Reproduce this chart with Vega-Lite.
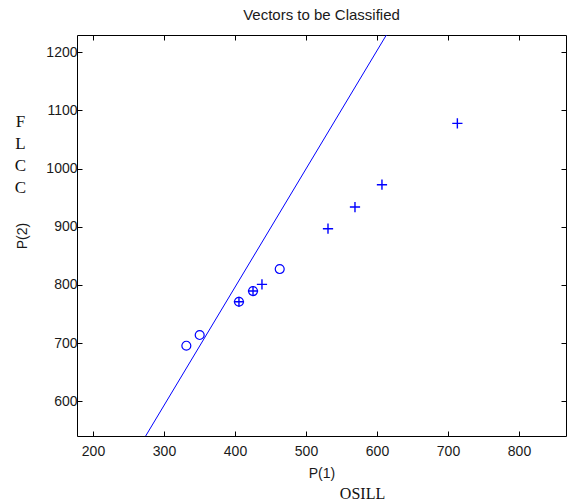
{
  "$schema": "https://vega.github.io/schema/vega-lite/v6.json",
  "width": 489,
  "height": 401,
  "autosize": {"type": "none"},
  "padding": {"left": 77, "top": 35, "right": 2, "bottom": 68},
  "background": "white",
  "title": {"text": "Vectors to be Classified", "font": "Liberation Sans", "fontSize": 15, "fontWeight": "normal", "color": "#1a1a1a", "offset": 12},
  "config": {
    "view": {"stroke": null},
    "axis": {"grid": false, "domainColor": "#000000", "tickColor": "#000000", "labelFont": "Liberation Sans", "labelFontSize": 14, "labelColor": "#1a1a1a", "titleFont": "Liberation Sans", "titleFontSize": 14, "titleFontWeight": "normal", "titleColor": "#1a1a1a", "tickSize": -5, "domainWidth": 1, "tickWidth": 1}
  },
  "datasets": {
    "vectors": [
      {"p1": 331.5, "p2": 695.5, "target": "o"},
      {"p1": 350.3, "p2": 713.9, "target": "o"},
      {"p1": 405.6, "p2": 771.1, "target": "o"},
      {"p1": 425.4, "p2": 789.5, "target": "o"},
      {"p1": 463, "p2": 827.3, "target": "o"},
      {"p1": 405.6, "p2": 771.1, "target": "+"},
      {"p1": 425.4, "p2": 789.5, "target": "+"},
      {"p1": 438, "p2": 801, "target": "+"},
      {"p1": 531, "p2": 896.6, "target": "+"},
      {"p1": 569, "p2": 933.8, "target": "+"},
      {"p1": 607, "p2": 972.2, "target": "+"},
      {"p1": 713.2, "p2": 1077.7, "target": "+"}
    ],
    "boundary": [
      {"p1": 274.2, "p2": 540.4},
      {"p1": 613.2, "p2": 1229.5}
    ]
  },
  "layer": [
    {
      "data": {"name": "vectors"},
      "transform": [{"filter": "datum.target === 'o'"}],
      "mark": {"type": "point", "shape": "circle", "size": 80, "filled": false, "stroke": "#0000ff", "strokeWidth": 1.2, "opacity": 1},
      "encoding": {
        "x": {"field": "p1", "type": "quantitative", "scale": {"domain": [177.5, 866.2], "nice": false, "zero": false},
          "axis": {"orient": "bottom", "values": [200, 300, 400, 500, 600, 700, 800], "format": "d", "title": "P(1)", "labelPadding": 13, "titlePadding": 8}},
        "y": {"field": "p2", "type": "quantitative", "scale": {"domain": [540.4, 1229.5], "nice": false, "zero": false},
          "axis": {"orient": "left", "values": [600, 700, 800, 900, 1000, 1100, 1200], "format": "d", "title": "P(2)", "labelPadding": 5, "titlePadding": 16}}
      }
    },
    {
      "data": {"name": "vectors"},
      "transform": [{"filter": "datum.target === '+'"}],
      "mark": {"type": "point", "shape": "M-1,0L1,0M0,-1L0,1", "size": 105, "filled": false, "stroke": "#0000ff", "strokeWidth": 1.4, "opacity": 1},
      "encoding": {
        "x": {"field": "p1", "type": "quantitative", "axis": {"orient": "top", "values": [200, 300, 400, 500, 600, 700, 800], "labels": false, "title": null}},
        "y": {"field": "p2", "type": "quantitative", "axis": {"orient": "right", "values": [600, 700, 800, 900, 1000, 1100, 1200], "labels": false, "title": null}}
      }
    },
    {
      "data": {"name": "boundary"},
      "mark": {"type": "line", "color": "#0000ff", "strokeWidth": 1, "clip": true},
      "encoding": {
        "x": {"field": "p1", "type": "quantitative", "axis": {"orient": "bottom", "domain": false, "ticks": false, "labels": false, "title": "OSILL", "titleFont": "Liberation Serif", "titleFontSize": 16, "titleColor": "#111111", "titleAlign": "center", "titleBaseline": "top", "titleX": 285, "titleY": 49}},
        "y": {"field": "p2", "type": "quantitative", "axis": {"orient": "left", "domain": false, "ticks": false, "labels": false, "title": ["F", "L", "C", "C"], "titleAngle": 0, "titleFont": "Liberation Serif", "titleFontSize": 17, "titleLineHeight": 22.3, "titleColor": "#111111", "titleAlign": "center", "titleBaseline": "top", "titleX": -57, "titleY": 78}}
      }
    }
  ],
  "resolve": {"axis": {"x": "independent", "y": "independent"}}
}
